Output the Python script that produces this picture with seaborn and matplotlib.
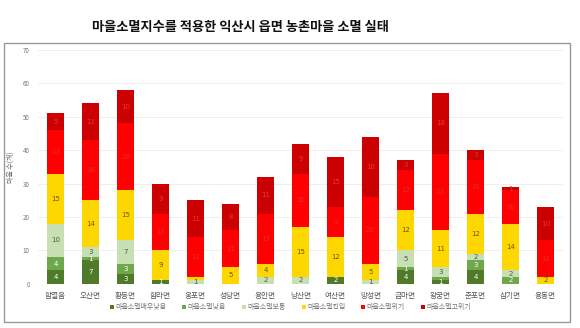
import matplotlib
matplotlib.use("Agg")
import matplotlib.pyplot as plt
import seaborn as sns
import numpy as np
import pandas as pd
from matplotlib.patches import Rectangle
from matplotlib.lines import Line2D

sns.set_theme(style="white")
plt.rcParams['font.family'] = ['Noto Sans CJK KR', 'DejaVu Sans']

categories = ["함열읍", "오산면", "황등면", "함라면", "웅포면", "성당면", "용안면", "낭산면",
              "여산면", "망성면", "금마면", "왕궁면", "춘포면", "삼기면", "용동면"]
series_names = ["마을소멸매우낮음", "마을소멸낮음", "마을소멸보통", "마을소멸진입", "마을소멸위기", "마을소멸고위기"]
very_low = [4, 7, 3, 1, 0, 0, 0, 0, 2, 0, 4, 1, 4, 0, 0]
low      = [4, 1, 3, 0, 0, 0, 0, 0, 0, 0, 1, 1, 3, 2, 0]
normal   = [10, 3, 7, 0, 1, 0, 2, 2, 0, 1, 5, 3, 2, 2, 0]
entry    = [15, 14, 15, 9, 1, 5, 4, 15, 12, 5, 12, 11, 12, 14, 2]
crisis   = [13, 18, 20, 11, 12, 11, 15, 16, 9, 20, 12, 23, 16, 10, 11]
high     = [5, 11, 10, 9, 11, 8, 11, 9, 15, 18, 3, 18, 3, 1, 10]
yticks = [0, 10, 20, 30, 40, 50, 60, 70]

colors = ["#4E7A2A", "#6FA84A", "#C6E0B4", "#FFD700", "#FF0000", "#CC0000"]
label_colors = ["#FFFFFF", "#FFFFFF", "#555555", "#6B5A00", "#D83030", "#E03838"]

data = np.array([very_low, low, normal, entry, crisis, high], dtype=float)
cum = np.cumsum(data, axis=0)

fig = plt.figure(figsize=(5.8, 3.28), dpi=100)
ax = fig.add_axes([0.0655, 0.135, 0.905, 0.7125])

for i in range(len(series_names) - 1, -1, -1):
    df = pd.DataFrame({"cat": categories, "val": cum[i]})
    sns.barplot(data=df, x="cat", y="val", color=colors[i], width=0.48,
                saturation=1, errorbar=None, ax=ax,
                linewidth=0, order=categories)

for j, cat in enumerate(categories):
    last_y = None
    for i in range(len(series_names)):
        v = data[i, j]
        if v <= 0:
            continue
        y = cum[i, j] - v / 2
        if last_y is not None and y - last_y < 1.8:
            continue
        ax.text(j, y, f"{int(v)}", ha="center", va="center", fontsize=5,
                color=label_colors[i], family=['DejaVu Sans'])
        last_y = y

ax.set_ylim(0, 70)
ax.set_xlim(-0.5, len(categories) - 0.5)
ax.set_yticks(yticks)
ax.set_yticklabels([str(t) for t in yticks], fontsize=4.5, color="#777777")
ax.tick_params(axis="x", labelsize=5.5, colors="#555555", length=0, pad=6)
ax.tick_params(axis="y", length=0, pad=6)
ax.grid(axis="y", color="#EBEBEB", linewidth=0.6)
ax.set_axisbelow(True)
for s in ax.spines.values():
    s.set_visible(False)
ax.set_xlabel("")
ax.set_ylabel("마을 수(개)", fontsize=5, color="#666666", labelpad=6)

leg_handles = [Line2D([0], [0], marker="s", linestyle="", markersize=3.2,
                      markerfacecolor=c, markeredgewidth=0) for c in colors]
fig.legend(leg_handles, series_names, loc="center", bbox_to_anchor=(0.5, 0.064),
           ncol=6, frameon=False, fontsize=5, labelcolor="#777777",
           handletextpad=0.1, columnspacing=2.2, handlelength=0.8)

fig.add_artist(Rectangle((4 / 580, 1 - 322 / 328), 566 / 580, 279 / 328,
                         transform=fig.transFigure, fill=False,
                         edgecolor="#999999", linewidth=1))
fig.text(240 / 580, 1 - 27 / 328, "마을소멸지수를 적용한 익산시 읍면 농촌마을 소멸 실태",
         ha="center", va="center", fontsize=9.5, fontweight="bold", color="#111111")

fig.savefig("out.png", dpi=100, facecolor="white")
